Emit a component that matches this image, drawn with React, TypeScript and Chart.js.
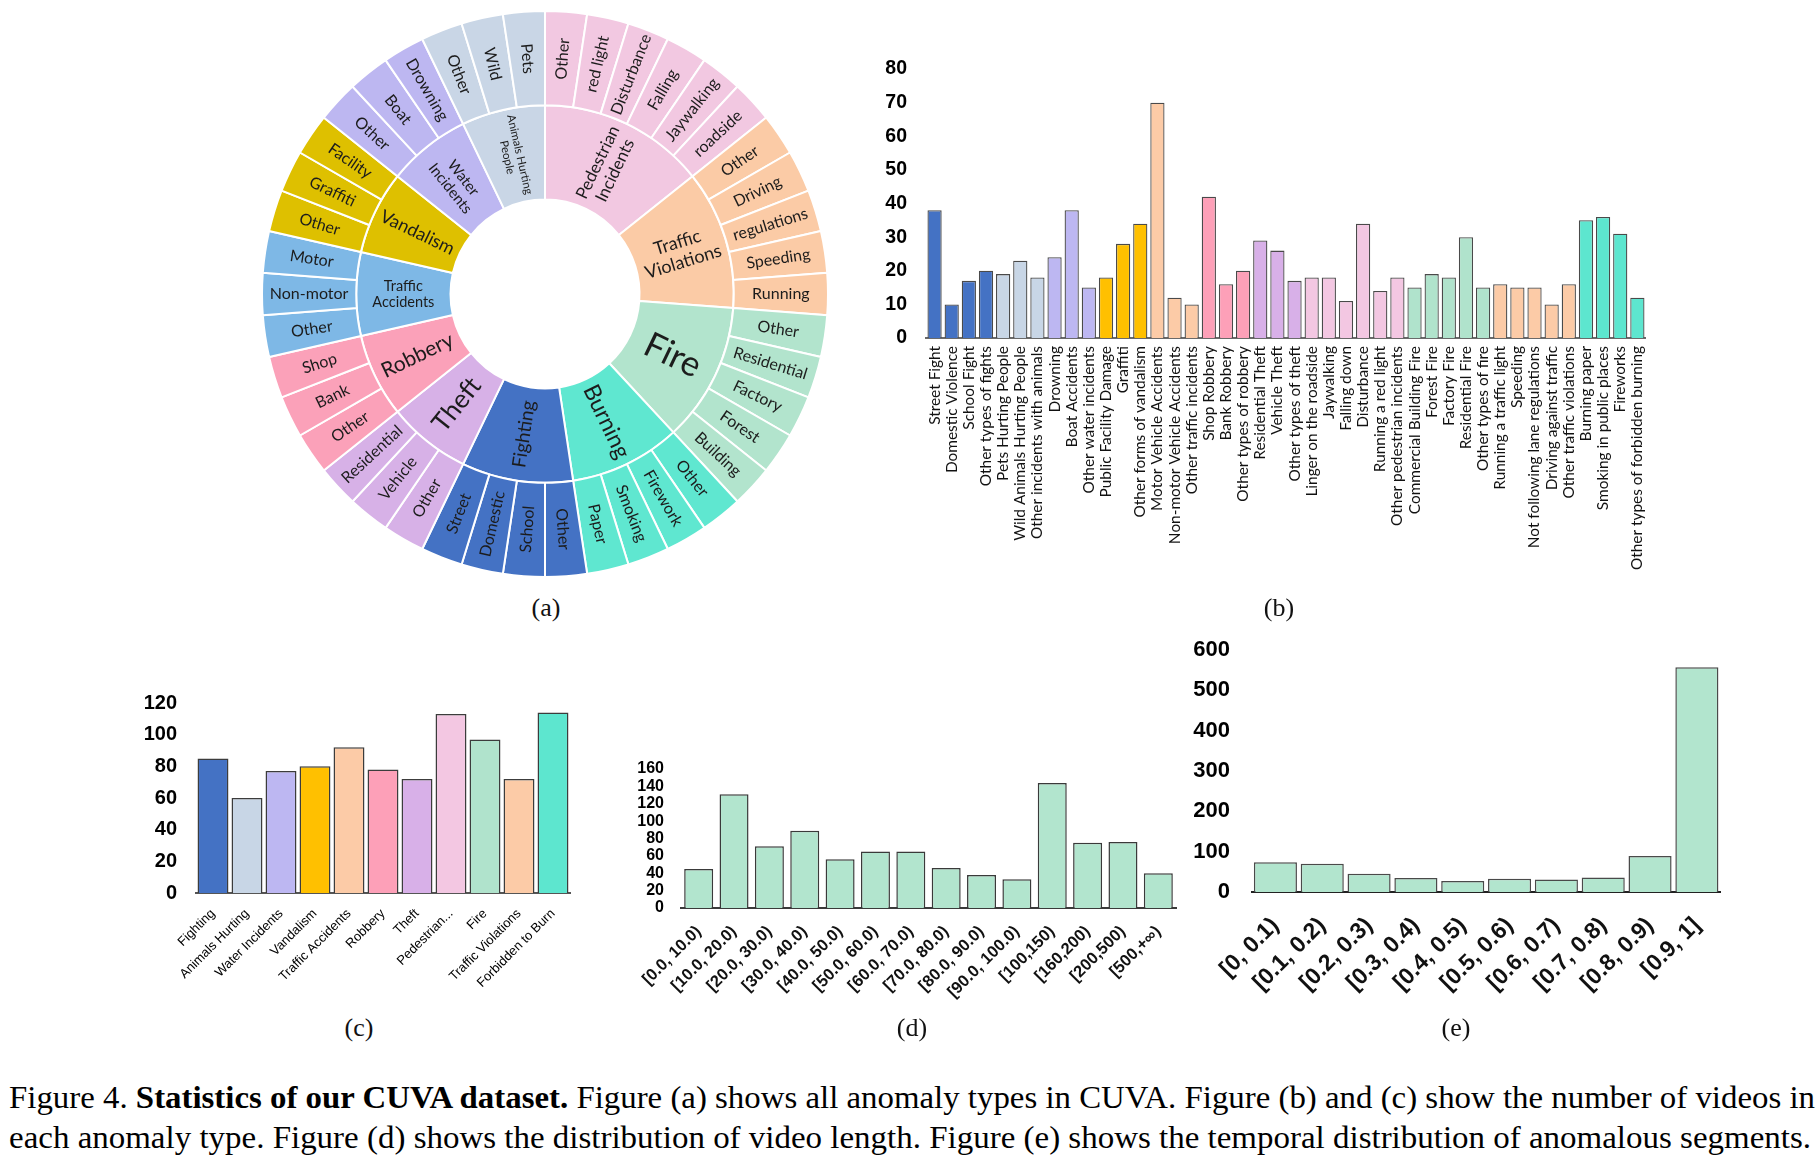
import React, { useEffect, useLayoutEffect, useRef } from 'react';
import { Chart, registerables } from 'chart.js';

Chart.register(...registerables);

// ---------------- DATA ----------------
// (a) sunburst: inner ring groups (clockwise from 12 o'clock) and their leaves
const sunburstGroups = [
  'Pedestrian Incidents', 'Traffic Violations', 'Fire', 'Burning', 'Fighting', 'Theft',
  'Robbery', 'Traffic Accidents', 'Vandalism', 'Water Incidents', 'Animals Hurting People',
];
const sunburstGroupLines = [
  ['Pedestrian', 'Incidents'], ['Traffic', 'Violations'], ['Fire'], ['Burning'], ['Fighting'], ['Theft'],
  ['Robbery'], ['Traffic', 'Accidents'], ['Vandalism'], ['Water', 'Incidents'], ['Animals Hurting', 'People'],
];
const sunburstGroupValues = [6, 5, 5, 4, 4, 3, 3, 3, 3, 3, 3];
const sunburstLeaves = [
  'Other', 'red light', 'Disturbance', 'Falling', 'Jaywalking', 'roadside',
  'Other', 'Driving', 'regulations', 'Speeding', 'Running',
  'Other', 'Residential', 'Factory', 'Forest', 'Building',
  'Other', 'Firework', 'Smoking', 'Paper',
  'Other', 'School', 'Domestic', 'Street',
  'Other', 'Vehicle', 'Residential',
  'Other', 'Bank', 'Shop',
  'Other', 'Non-motor', 'Motor',
  'Other', 'Graffiti', 'Facility',
  'Other', 'Boat', 'Drowning',
  'Other', 'Wild', 'Pets',
];
const sunburstLeafValues = [
  1, 1, 1, 1, 1, 1, 1, 1, 1, 1, 1, 1, 1, 1, 1, 1, 1, 1, 1, 1, 1,
  1, 1, 1, 1, 1, 1, 1, 1, 1, 1, 1, 1, 1, 1, 1, 1, 1, 1, 1, 1, 1,
];

// (b) number of videos per anomaly type
const typeLabels = [
  'Street Fight', 'Domestic Violence', 'School Fight', 'Other types of fights',
  'Pets Hurting People', 'Wild Animals Hurting People', 'Other incidents with animals',
  'Drowning', 'Boat Accidents', 'Other water incidents',
  'Public Facility Damage', 'Graffiti', 'Other forms of vandalism',
  'Motor Vehicle Accidents', 'Non-motor Vehicle Accidents', 'Other traffic incidents',
  'Shop Robbery', 'Bank Robbery', 'Other types of robbery',
  'Residential Theft', 'Vehicle Theft', 'Other types of theft',
  'Linger on the roadside', 'Jaywalking', 'Falling down', 'Disturbance', 'Running a red light', 'Other pedestrian incidents',
  'Commercial Building Fire', 'Forest Fire', 'Factory Fire', 'Residential Fire', 'Other types of fire',
  'Running a traffic light', 'Speeding', 'Not following lane regulations', 'Driving against traffic', 'Other traffic violations',
  'Burning paper', 'Smoking in public places', 'Fireworks', 'Other types of forbidden burning',
];
const typeCounts = [
  38, 10, 17, 20,
  19, 23, 18,
  24, 38, 15,
  18, 28, 34,
  70, 12, 10,
  42, 16, 20,
  29, 26, 17,
  18, 18, 11, 34, 14, 18,
  15, 19, 18, 30, 15,
  16, 15, 15, 10, 16,
  35, 36, 31, 12,
];
const typeGroupSizes = [4, 3, 3, 3, 3, 3, 3, 6, 5, 5, 4];

// (c) number of videos per category
const categoryLabels = [
  'Fighting', 'Animals Hurting', 'Water Incidents', 'Vandalism', 'Traffic Accidents', 'Robbery',
  'Theft', 'Pedestrian...', 'Fire', 'Traffic Violations', 'Forbidden to Burn',
];
const categoryCounts = [85, 60, 77, 80, 92, 78, 72, 113, 97, 72, 114];

// (d) video length distribution
const lengthBins = [
  '[0.0, 10.0)', '[10.0, 20.0)', '[20.0, 30.0)', '[30.0, 40.0)', '[40.0, 50.0)', '[50.0, 60.0)',
  '[60.0, 70.0)', '[70.0, 80.0)', '[80.0, 90.0)', '[90.0, 100.0)', '[100,150)', '[160,200)',
  '[200,500)', '[500,+\u221E)',
];
const lengthCounts = [45, 131, 71, 89, 56, 65, 65, 46, 38, 33, 144, 75, 76, 40];

// (e) temporal distribution of anomalous segments
const segmentBins = [
  '[0, 0.1)', '[0.1, 0.2)', '[0.2, 0.3)', '[0.3, 0.4)', '[0.4, 0.5)',
  '[0.5, 0.6)', '[0.6, 0.7)', '[0.7, 0.8)', '[0.8, 0.9)', '[0.9, 1]',
];
const segmentCounts = [74, 70, 45, 35, 27, 33, 31, 36, 89, 557];

// axis ranges
const typeAxisMax = 80;
const typeAxisStep = 10;
const categoryAxisMax = 120;
const categoryAxisStep = 20;
const lengthAxisMax = 160;
const lengthAxisStep = 20;
const segmentAxisMax = 600;
const segmentAxisStep = 100;

// ---------------- STYLES ----------------
const sunburstColors = [
  '#F2C8E1', '#FBCBA6', '#B2E4CD', '#5FE7D0', '#4472C4', '#D7B1E7',
  '#FBA1B9', '#7EB8E6', '#DEC000', '#BDB7F1', '#C9D6E6',
];
const sunburstInnerFont: Record<string, number> = {
  'Pedestrian Incidents': 17,
  'Traffic Violations': 18,
  Fire: 35,
  Burning: 23,
  Fighting: 19,
  Theft: 26,
  Robbery: 21,
  'Traffic Accidents': 14.5,
  Vandalism: 18,
  'Water Incidents': 15,
  'Animals Hurting People': 11.5,
};
const sunburstOuterFont = 16;

const barGroupColors = [
  '#4472C4', '#C8D6E6', '#BDB7F2', '#FFC000', '#FCCBA7', '#FDA0B8',
  '#D8B0E8', '#F3C7E2', '#B0E3CC', '#FCCBA7', '#5DE6CF',
];
const mint = '#B2E5CE';

const LABEL_FONT = '"Liberation Sans", Arial, sans-serif';
const TEXT_FONT = 'Lato, "Open Sans", sans-serif';
const SERIF = '"Liberation Serif", "Times New Roman", serif';

// ---------------- HELPERS ----------------
function expandColors(sizes: number[], colors: string[]): string[] {
  const out: string[] = [];
  sizes.forEach((n, gi) => {
    for (let k = 0; k < n; k++) out.push(colors[gi]);
  });
  return out;
}

const sunburstLabelPlugin = {
  id: 'sunburstLabels',
  afterDatasetsDraw(chart: any) {
    const ctx = chart.ctx;
    ctx.save();
    ctx.fillStyle = '#1c1c1c';
    ctx.textAlign = 'center';
    ctx.textBaseline = 'middle';
    chart.data.datasets.forEach((ds: any, di: number) => {
      const meta = chart.getDatasetMeta(di);
      meta.data.forEach((arc: any, i: number) => {
        const p = arc.getProps(['x', 'y', 'startAngle', 'endAngle', 'innerRadius', 'outerRadius'], true);
        const mid = (p.startAngle + p.endAngle) / 2;
        const r = (p.innerRadius + p.outerRadius) / 2;
        const cx = p.x + Math.cos(mid) * r;
        const cy = p.y + Math.sin(mid) * r;
        const theta = mid + Math.PI / 2;
        const rot = theta > Math.PI + 1e-6 ? mid - Math.PI : mid;
        const lines: string[] = ds.labelLines[i];
        const size: number = ds.labelSizes[i];
        ctx.save();
        ctx.translate(cx, cy);
        ctx.rotate(rot);
        ctx.font = `${size}px ${TEXT_FONT}`;
        const lh = size * 1.12;
        lines.forEach((line, li) => {
          ctx.fillText(line, 0, (li - (lines.length - 1) / 2) * lh);
        });
        ctx.restore();
      });
    });
    ctx.restore();
  },
};

function sunburstConfig(): any {
  const leafColors = expandColors(sunburstGroupValues, sunburstColors);
  return {
    type: 'doughnut',
    data: {
      labels: sunburstLeaves,
      datasets: [
        {
          data: sunburstLeafValues,
          backgroundColor: leafColors,
          borderColor: '#ffffff',
          borderWidth: 2,
          labelLines: sunburstLeaves.map((l) => [l]),
          labelSizes: sunburstLeaves.map(() => sunburstOuterFont),
        },
        {
          data: sunburstGroupValues,
          backgroundColor: sunburstColors,
          borderColor: '#ffffff',
          borderWidth: 2,
          labelLines: sunburstGroupLines,
          labelSizes: sunburstGroups.map((g) => sunburstInnerFont[g]),
        },
      ],
    },
    options: {
      responsive: false,
      animation: false,
      events: [],
      cutout: '33.4%',
      layout: { padding: 0 },
      plugins: { legend: { display: false }, tooltip: { enabled: false } },
    },
    plugins: [sunburstLabelPlugin],
  };
}

interface BarOpts {
  labels: string[];
  data: number[];
  colors: string[] | string;
  yMax: number;
  yStep: number;
  yFont: any;
  yPad: number;
  xFont: any;
  xRot: number;
  xPad: number;
  xColor: string;
  yWidth: number;
  xHeight: number;
  padTop: number;
  padRight: number;
  barPct: number;
  barBorder: string;
  barBorderWidth: number;
  axisColor: string;
  axisWidth: number;
}

function barConfig(p: BarOpts): any {
  return {
    type: 'bar',
    data: {
      labels: p.labels,
      datasets: [
        {
          data: p.data,
          backgroundColor: p.colors,
          borderColor: p.barBorder,
          borderWidth: p.barBorderWidth,
          barPercentage: p.barPct,
          categoryPercentage: 1,
        },
      ],
    },
    options: {
      responsive: false,
      animation: false,
      events: [],
      layout: { padding: { left: 0, top: p.padTop, right: p.padRight, bottom: 0 } },
      plugins: { legend: { display: false }, tooltip: { enabled: false } },
      scales: {
        x: {
          grid: { display: false, drawTicks: false },
          border: { display: true, color: p.axisColor, width: p.axisWidth },
          ticks: {
            autoSkip: false,
            maxRotation: p.xRot,
            minRotation: p.xRot,
            padding: p.xPad,
            font: p.xFont,
            color: p.xColor,
          },
          afterFit: (s: any) => {
            s.height = p.xHeight;
          },
        },
        y: {
          min: 0,
          max: p.yMax,
          grid: { display: false, drawTicks: false },
          border: { display: false },
          ticks: { stepSize: p.yStep, autoSkip: false, padding: p.yPad, font: p.yFont, color: '#000' },
          afterFit: (s: any) => {
            s.width = p.yWidth;
          },
        },
      },
    },
  };
}

// canvas boxes (left, top, width, height); plot top = box.top + PAD_TOP
const PAD_TOP = 50;
const boxA = { left: 261, top: 10, width: 568, height: 568 };
const boxB = { left: 846, top: 69 - PAD_TOP, width: 818, height: 338 + 262 - (69 - PAD_TOP) };
const boxC = { left: 116, top: 703 - PAD_TOP, width: 466, height: 893 + 120 - (703 - PAD_TOP) };
const boxD = { left: 601, top: 769 - PAD_TOP, width: 587, height: 908 + 110 - (769 - PAD_TOP) };
const boxE = { left: 1172, top: 650 - PAD_TOP, width: 565, height: 892 + 130 - (650 - PAD_TOP) };

function FitLine(props: { top: number; width: number; children: React.ReactNode }) {
  const ref = useRef<HTMLDivElement>(null);
  useLayoutEffect(() => {
    const el = ref.current;
    if (!el) return;
    el.style.transform = 'none';
    const w = el.getBoundingClientRect().width;
    if (w > 0) el.style.transform = `scaleX(${props.width / w})`;
  }, [props.width]);
  return (
    <div
      ref={ref}
      style={{
        position: 'absolute',
        left: 9,
        top: props.top,
        whiteSpace: 'nowrap',
        fontFamily: SERIF,
        fontSize: 32,
        lineHeight: '36px',
        color: '#000',
        transformOrigin: '0 0',
      }}
    >
      {props.children}
    </div>
  );
}

function SubCaption(props: { x: number; y: number; text: string }) {
  return (
    <div
      style={{
        position: 'absolute',
        left: props.x,
        top: props.y,
        transform: 'translate(-50%, -50%)',
        fontFamily: SERIF,
        fontSize: 26,
        lineHeight: '30px',
        color: '#111',
        whiteSpace: 'nowrap',
      }}
    >
      {props.text}
    </div>
  );
}

function boxStyle(b: { left: number; top: number; width: number; height: number }): React.CSSProperties {
  return { position: 'absolute', left: b.left, top: b.top, width: b.width, height: b.height };
}

export default function App() {
  const aRef = useRef<HTMLCanvasElement>(null);
  const bRef = useRef<HTMLCanvasElement>(null);
  const cRef = useRef<HTMLCanvasElement>(null);
  const dRef = useRef<HTMLCanvasElement>(null);
  const eRef = useRef<HTMLCanvasElement>(null);

  useEffect(() => {
    const charts: Chart[] = [];
    charts.push(new Chart(aRef.current as HTMLCanvasElement, sunburstConfig()));
    charts.push(
      new Chart(
        bRef.current as HTMLCanvasElement,
        barConfig({
          labels: typeLabels,
          data: typeCounts,
          colors: expandColors(typeGroupSizes, barGroupColors),
          yMax: typeAxisMax,
          yStep: typeAxisStep,
          yFont: { family: LABEL_FONT, size: 19.5, weight: 'bold' },
          yPad: 19,
          xFont: { family: TEXT_FONT, size: 15.4 },
          xRot: 90,
          xPad: 8,
          xColor: '#111',
          yWidth: 80,
          xHeight: 262,
          padTop: PAD_TOP,
          padRight: 12,
          barPct: 0.83,
          barBorder: '#4a4a4a',
          barBorderWidth: 1.3,
          axisColor: '#6a6a6a',
          axisWidth: 2,
        })
      )
    );
    charts.push(
      new Chart(
        cRef.current as HTMLCanvasElement,
        barConfig({
          labels: categoryLabels,
          data: categoryCounts,
          colors: barGroupColors,
          yMax: categoryAxisMax,
          yStep: categoryAxisStep,
          yFont: { family: LABEL_FONT, size: 20, weight: 'bold' },
          yPad: 19,
          xFont: { family: LABEL_FONT, size: 13 },
          xRot: 45,
          xPad: 13,
          xColor: '#000',
          yWidth: 80,
          xHeight: 120,
          padTop: PAD_TOP,
          padRight: 12,
          barPct: 0.91,
          barBorder: '#3c3c3c',
          barBorderWidth: 1.5,
          axisColor: '#555',
          axisWidth: 2,
        })
      )
    );
    charts.push(
      new Chart(
        dRef.current as HTMLCanvasElement,
        barConfig({
          labels: lengthBins,
          data: lengthCounts,
          colors: mint,
          yMax: lengthAxisMax,
          yStep: lengthAxisStep,
          yFont: { family: LABEL_FONT, size: 16, weight: 'bold' },
          yPad: 17,
          xFont: { family: LABEL_FONT, size: 16.5, weight: 'bold' },
          xRot: 45,
          xPad: 14,
          xColor: '#111',
          yWidth: 80,
          xHeight: 110,
          padTop: PAD_TOP,
          padRight: 12,
          barPct: 0.82,
          barBorder: '#3a3a3a',
          barBorderWidth: 1.5,
          axisColor: '#3a3a3a',
          axisWidth: 2,
        })
      )
    );
    charts.push(
      new Chart(
        eRef.current as HTMLCanvasElement,
        barConfig({
          labels: segmentBins,
          data: segmentCounts,
          colors: mint,
          yMax: segmentAxisMax,
          yStep: segmentAxisStep,
          yFont: { family: LABEL_FONT, size: 22, weight: 'bold' },
          yPad: 22,
          xFont: { family: LABEL_FONT, size: 23, weight: 'bold' },
          xRot: 45,
          xPad: 20,
          xColor: '#111',
          yWidth: 80,
          xHeight: 130,
          padTop: PAD_TOP,
          padRight: 12,
          barPct: 0.92,
          barBorder: '#4a4a4a',
          barBorderWidth: 1.5,
          axisColor: '#222',
          axisWidth: 2,
        })
      )
    );
    return () => {
      charts.forEach((c) => c.destroy());
    };
  }, []);

  return (
    <div
      style={{
        position: 'absolute',
        left: 0,
        top: 0,
        width: 1819,
        height: 1160,
        background: '#ffffff',
        overflow: 'hidden',
      }}
    >
      <canvas ref={aRef} width={boxA.width} height={boxA.height} style={boxStyle(boxA)} />
      <canvas ref={bRef} width={boxB.width} height={boxB.height} style={boxStyle(boxB)} />
      <canvas ref={cRef} width={boxC.width} height={boxC.height} style={boxStyle(boxC)} />
      <canvas ref={dRef} width={boxD.width} height={boxD.height} style={boxStyle(boxD)} />
      <canvas ref={eRef} width={boxE.width} height={boxE.height} style={boxStyle(boxE)} />

      <SubCaption x={546} y={608} text="(a)" />
      <SubCaption x={1279} y={608} text="(b)" />
      <SubCaption x={359} y={1028} text="(c)" />
      <SubCaption x={912} y={1028} text="(d)" />
      <SubCaption x={1456} y={1028} text="(e)" />

      <FitLine top={1079} width={1806}>
        Figure 4. <b>Statistics of our CUVA dataset.</b> Figure (a) shows all anomaly types in CUVA. Figure (b) and (c)
        show the number of videos in
      </FitLine>
      <FitLine top={1119} width={1802}>
        each anomaly type. Figure (d) shows the distribution of video length. Figure (e) shows the temporal distribution
        of anomalous segments.
      </FitLine>
    </div>
  );
}
